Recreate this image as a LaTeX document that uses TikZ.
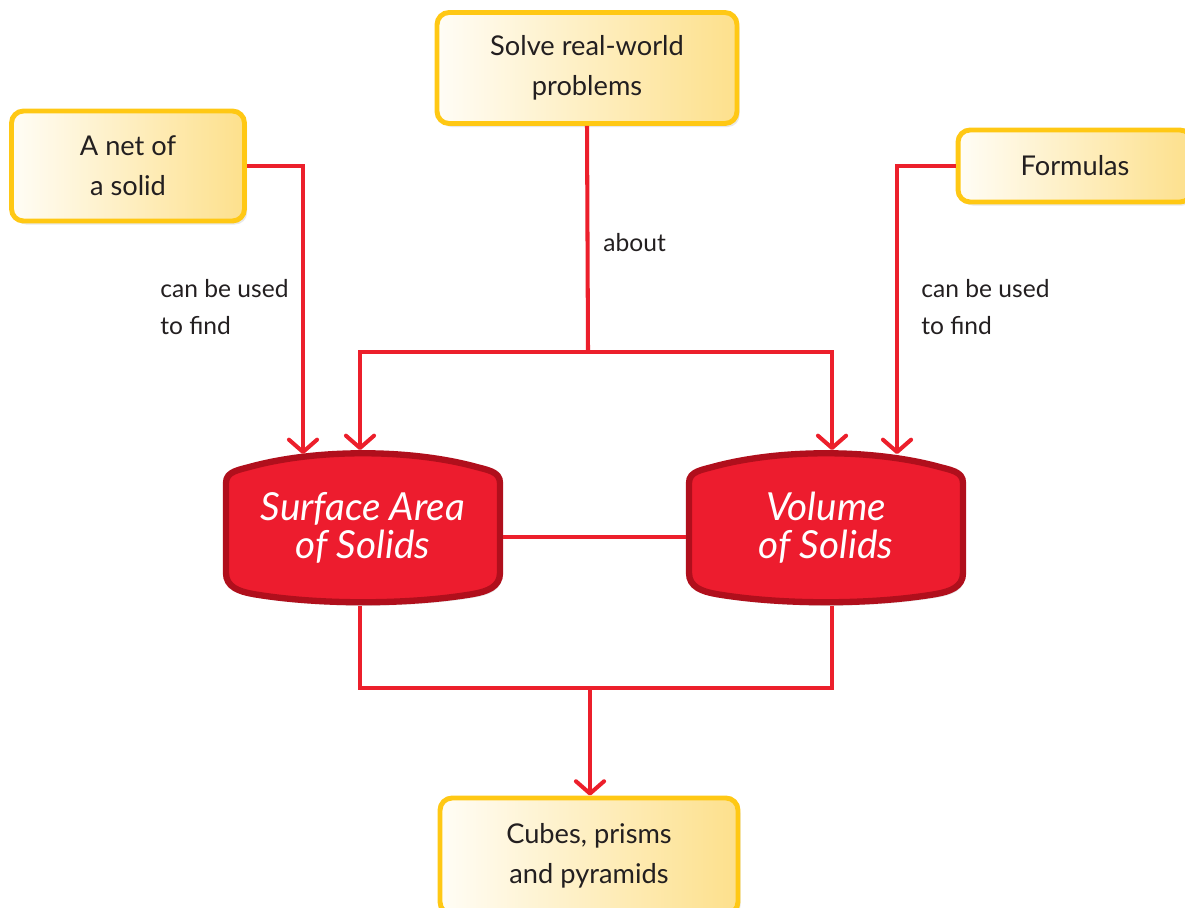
\documentclass[tikz,border=0pt]{standalone}
\usepackage{fontspec}
\setmainfont{Lato}
\usepackage{xcolor}
\usetikzlibrary{arrows.meta, shadows, backgrounds}

\definecolor{linkred}{HTML}{EC1F2B}
\definecolor{solidred}{HTML}{ED1C2E}
\definecolor{soliddark}{HTML}{B00F1C}
\definecolor{boxgold}{HTML}{FFC814}
\definecolor{boxlight}{HTML}{FFFDF6}
\definecolor{boxdeep}{HTML}{FDE08C}
\definecolor{textdark}{HTML}{231F20}

\begin{document}
\begin{tikzpicture}[x=0.02cm,y=-0.02cm,>={Straight Barb[length=7pt,width=16pt,round]},thin]
                \tikzset{topic/.style={draw=boxgold, line width=2.8pt, rounded corners=0.24cm,
                                 left color=boxlight, right color=boxdeep, text=textdark,
                                 align=center, font=\fontsize{15.5}{22.8}\selectfont,
                                 drop shadow={shadow xshift=1.5pt, shadow yshift=-2pt, opacity=0.18}},
                         solid/.style={minimum width=5.6cm, minimum height=3.1cm, text=white,
                                 align=center, font=\fontsize{22}{21.6}\selectfont\itshape},
                         solidframe/.style={fill=solidred, draw=soliddark, line width=3.6pt,
                                 drop shadow={shadow xshift=1pt, shadow yshift=-2pt, opacity=0.2}},
                         link/.style={draw=linkred, line width=2.3pt},
                         note/.style={anchor=west, align=left, inner sep=0pt, text=textdark,
                                 font=\fontsize{14}{21}\selectfont}}

                \useasboundingbox (0,0) rectangle (1185,907);

                \node[topic, minimum width=4.66cm, minimum height=2.2cm] (net) at (128,166) {A net of\\a solid};
                \node[topic, minimum width=6cm, minimum height=2.22cm] (solve) at (587,68) {Solve real-world\\problems};
                \node[topic, minimum width=4.68cm, minimum height=1.44cm] (formulas) at (1075,166) {Formulas};
                \node[topic, minimum width=5.96cm, minimum height=2.32cm] (shapes) at (589,856) {Cubes, prisms\\and pyramids};

                \node[solid] (surf) at (363,528) {Surface Area\\of Solids};
                \node[solid] (vol) at (826,528) {Volume\\of Solids};

                \begin{scope}[on background layer]
                \foreach \n in {surf,vol}
                    \draw[solidframe] ([shift={(-137,-45)}]\n.center)
                        .. controls +(0,-12) and +(-14,4) .. ([shift={(-110,-62)}]\n.center)
                        .. controls +(65,-17) and +(-65,-17) .. ([shift={(110,-62)}]\n.center)
                        .. controls +(14,4) and +(0,-12) .. ([shift={(137,-45)}]\n.center)
                        -- ([shift={(137,45)}]\n.center)
                        .. controls +(0,14) and +(14,-2.5) .. ([shift={(110,66)}]\n.center)
                        .. controls +(-65,11) and +(65,11) .. ([shift={(-110,66)}]\n.center)
                        .. controls +(-14,-2.5) and +(0,14) .. ([shift={(-137,45)}]\n.center)
                        -- cycle;
                \end{scope}

                \coordinate (sa1) at (303,454);
                \coordinate (sa2) at (360,450);
                \coordinate (vo1) at (832,450);
                \coordinate (vo2) at (897,454);
                \coordinate (jt) at (588,352);
                \coordinate (jb) at (590,688);

                \path[link,->] (net.east) -| (sa1);
                \path[link] (solve.south) -- (jt);
                \path[link,->] (jt) -| (sa2);
                \path[link,->] (jt) -| (vo1);
                \path[link,->] (formulas.west) -| (vo2);
                \path[link] ([yshift=-0.18cm]surf.east) -- ([yshift=-0.18cm]vol.west);
                \path[link] ([xshift=-0.06cm]surf.south) |- (jb) -| ([xshift=0.12cm]vol.south);
                \path[link,->] (jb) -- (jb |- shapes.north);

                \node[note] (about) at (603,243) {about};
                \node[note] (useleft) at (160,307) {can be used\\to find};
                \node[note] (useright) at (921,307) {can be used\\to find};
            \end{tikzpicture}
\end{document}
